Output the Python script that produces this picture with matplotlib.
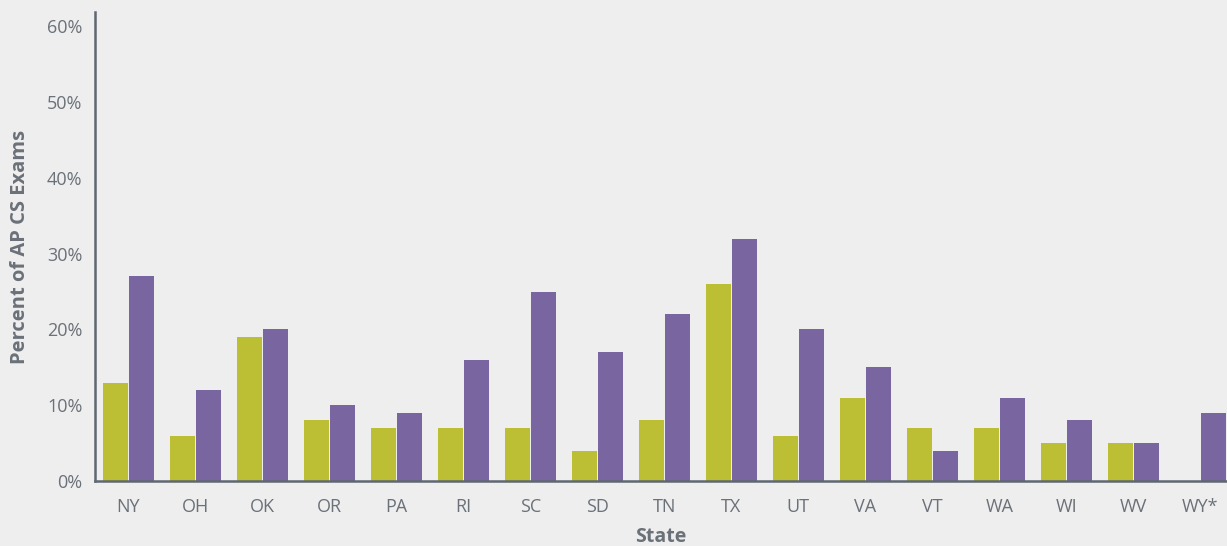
import numpy as np
import matplotlib.pyplot as plt

states = ["NY", "OH", "OK", "OR", "PA", "RI", "SC", "SD", "TN", "TX",
          "UT", "VA", "VT", "WA", "WI", "WV", "WY*"]
green_vals = [13, 6, 19, 8, 7, 7, 7, 4, 8, 26, 6, 11, 7, 7, 5, 5, 0]
purple_vals = [27, 12, 20, 10, 9, 16, 25, 17, 22, 32, 20, 15, 4, 11, 8, 5, 9]
y_ticks = [0, 10, 20, 30, 40, 50, 60]

bg = "#eeeeee"
txt = "#6b7179"
spine = "#5f6770"

plt.rcParams['font.family'] = ['Open Sans', 'DejaVu Sans']

fig = plt.figure(figsize=(12.27, 5.46), dpi=100, facecolor=bg)
ax = fig.add_axes([95 / 1227, 65 / 546, 1 - 95 / 1227, (481 - 12) / 546])
ax.set_facecolor(bg)

x = np.arange(len(states))
w = 0.373
ax.bar(x - w / 2 - 0.008, green_vals, width=w, color="#bcbf33", linewidth=0)
ax.bar(x + w / 2 + 0.008, purple_vals, width=w, color="#7966a1", linewidth=0)

ax.set_xlim(-0.5, 16.4)
ax.set_ylim(0, 61.9)
ax.set_xticks(x)
ax.set_xticklabels(states)
ax.set_yticks(y_ticks)
ax.set_yticklabels([f"{v}%" for v in y_ticks])
ax.tick_params(length=0, colors=txt, labelsize=13)
ax.tick_params(axis='x', pad=12)
ax.tick_params(axis='y', pad=9)

for s in ["top", "right"]:
    ax.spines[s].set_visible(False)
for s in ["left", "bottom"]:
    ax.spines[s].set_color(spine)
    ax.spines[s].set_linewidth(1.8)

ax.set_xlabel("State", color=txt, fontsize=14, fontweight="bold", labelpad=8)
ax.set_ylabel("Percent of AP CS Exams", color=txt, fontsize=14.5, fontweight="bold", labelpad=12)

fig.savefig("out.png", dpi=100, facecolor=bg)
